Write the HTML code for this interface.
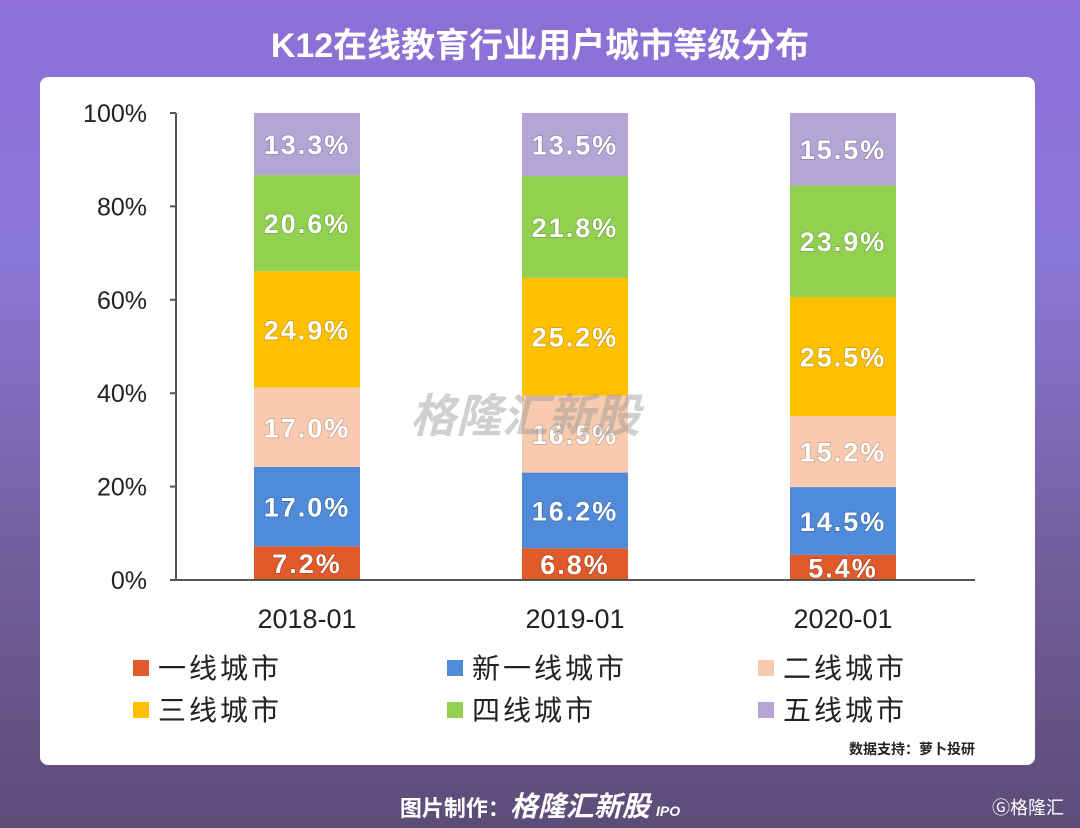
<!DOCTYPE html>
<html><head><meta charset="utf-8">
<style>
html,body{margin:0;padding:0;}
body{width:1080px;height:828px;overflow:hidden;background:linear-gradient(180deg,#8d6fd6 0%,#8a78d8 30%,#6f5e98 70%,#5c4c78 100%);font-family:"Liberation Sans","Noto Sans CJK SC",sans-serif;position:relative;}
#title{position:absolute;top:18px;left:0;width:1080px;text-align:center;color:#fff;font-size:34px;font-weight:bold;}
#card{position:absolute;left:40px;top:77px;width:995px;height:688px;background:#fff;border-radius:8px;}
svg{position:absolute;left:0;top:0;}
#footer{position:absolute;top:785px;left:0;width:1080px;text-align:center;color:#fff;font-size:22px;font-weight:bold;}
#footer i{font-size:28px;font-style:italic;}
#logo{position:absolute;right:16px;top:794px;color:#fff;font-size:18px;}
</style></head><body>
<div id="title">K12在线教育行业用户城市等级分布</div>
<div id="card"></div>
<svg id="chart" width="1080" height="828"></svg>
<div id="footer">图片制作：<i>格隆汇新股</i> <span style="font-size:14px;font-style:italic">IPO</span></div>
<div id="logo">Ⓖ格隆汇</div>
<script>
const categories=["2018-01","2019-01","2020-01"];
const seriesNames=["一线城市","新一线城市","二线城市","三线城市","四线城市","五线城市"];
const s1=[7.2,6.8,5.4];
const s2=[17.0,16.2,14.5];
const s3=[17.0,16.5,15.2];
const s4=[24.9,25.2,25.5];
const s5=[20.6,21.8,23.9];
const s6=[13.3,13.5,15.5];
const yTicks=[0,20,40,60,80,100];
const series=[s1,s2,s3,s4,s5,s6];
const colors=["#e05a2b","#4f8bd8","#f8cbb0","#ffc000","#92d050","#b3a6d6"];
const NS="http://www.w3.org/2000/svg";
const svg=document.getElementById('chart');
const y=v=>580-v*4.67;
const x=i=>307+i*268;
function mk(t,a,p){const e=document.createElementNS(NS,t);for(const k in a)e.setAttribute(k,a[k]);(p||svg).appendChild(e);return e;}
yTicks.forEach(t=>{
  const e=mk('text',{x:147,y:y(t)+9,'text-anchor':'end','font-size':25,fill:'#222'});
  e.textContent=t+'%';
  
  
  const l=mk('line',{x1:170,x2:176,y1:y(t),y2:y(t),stroke:'#555','stroke-width':2});
  
  
});
const ya=mk('line',{x1:176,x2:176,y1:y(100),y2:580,stroke:'#555','stroke-width':2});


categories.forEach((c,i)=>{
  let base=0;
  series.forEach((s,k)=>{
    const v=s[i];
    const r=mk('rect',{x:x(i)-53,y:y(base+v),width:106,height:v*4.67,fill:colors[k]});
    
    
    const t=mk('text',{x:x(i),y:y(base+v/2)+10,'text-anchor':'middle','font-size':27,'font-weight':'bold',fill:'#fff','letter-spacing':'2',style:'paint-order:stroke',stroke:'rgba(0,0,0,0.2)','stroke-width':1.5});
    t.textContent=v.toFixed(1)+'%';
    
    
    base+=v;
  });
  const ct=mk('text',{x:x(i),y:628,'text-anchor':'middle','font-size':27,fill:'#222'});
  ct.textContent=c;
  
  
});
const xa=mk('line',{x1:176,x2:975,y1:580,y2:580,stroke:'#555','stroke-width':2});


const wm=mk('text',{x:525,y:432,'text-anchor':'middle','font-size':46,'font-weight':'bold','font-style':'italic',fill:'rgba(150,150,150,0.45)'});
wm.textContent='格隆汇新股';


const lx=[133,447,758],ly=[668,710];
seriesNames.forEach((n,k)=>{
  const gx=lx[k%3],gy=ly[Math.floor(k/3)];
  const r=mk('rect',{x:gx,y:gy-8,width:16,height:16,fill:colors[k]});
  
  
  const t=mk('text',{x:gx+25,y:gy+10,'font-size':28,fill:'#222','letter-spacing':'3'});
  t.textContent=n;
  
  
});
const src=mk('text',{x:975,y:754,'text-anchor':'end','font-size':14,'font-weight':'bold',fill:'#222'});
src.textContent='数据支持：萝卜投研';


</script>
</body></html>
